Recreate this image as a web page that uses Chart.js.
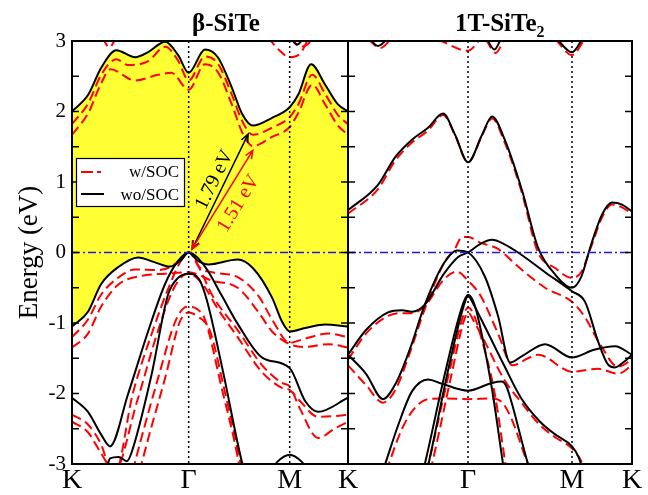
<!DOCTYPE html>
<html>
<head>
<meta charset="utf-8">
<script src="https://cdn.jsdelivr.net/npm/chart.js@4.4.1/dist/chart.umd.min.js"></script>
<style>
  body { margin: 0; background: #fff; }
  #wrap { position: relative; width: 648px; height: 495px; }
  #left { position: absolute; left: 0; top: 0; }
  #right { position: absolute; left: 300px; top: 0; }
</style>
</head>
<body>
<div id="wrap">
  <canvas id="left" width="360" height="495"></canvas>
  <canvas id="right" width="348" height="495"></canvas>
</div>
<script>
// k-path in units of |ΓK|: K - Γ - M - K
const kPath = [0, 1, 1.866, 2.366];
const kNames = ['K', 'Γ', 'M', 'K'];
const eMin = -3, eMax = 3;

// ---- β-SiTe, wo/SOC ----
const siTeCB1 = [[0,2.0],[0.14,2.24],[0.25,2.62],[0.38,2.87],[0.54,2.77],[0.65,2.84],[0.8,2.99],[0.91,2.8],[1.0,2.55],[1.14,2.88],[1.25,2.77],[1.37,2.34],[1.46,1.96],[1.55,1.80],[1.715,1.91],[1.866,2.06],[1.94,2.24],[2.05,2.67],[2.17,2.38],[2.28,2.10],[2.366,2.0]];
const siTeCB2 = [[1.87,3.05],[1.93,2.95],[1.99,3.05]];
const siTeVB1 = [[0,-1.05],[0.137,-0.84],[0.249,-0.45],[0.394,-0.21],[0.566,-0.07],[0.712,-0.14],[0.84,-0.2],[0.93,-0.12],[1.0,0],[1.08,-0.12],[1.17,-0.17],[1.42,-0.1],[1.55,-0.22],[1.715,-0.64],[1.8,-0.98],[1.866,-1.12],[2.0,-1.07],[2.17,-1.02],[2.366,-1.05]];
const siTeVB2 = [[0,-2.06],[0.137,-2.26],[0.249,-2.58],[0.326,-2.75],[0.48,-2.01],[0.652,-1.12],[0.797,-0.45],[0.909,-0.12],[1.0,0],[1.14,-0.2],[1.28,-0.6],[1.423,-1.02],[1.63,-1.49],[1.866,-1.64],[2.0,-2.11],[2.11,-2.26],[2.366,-2.06]];
const siTeVB3 = [[0.3,-3.05],[0.326,-2.92],[0.4,-2.9],[0.47,-2.96],[0.51,-2.84],[0.677,-1.77],[0.823,-0.6],[0.909,-0.36],[1.0,-0.3],[1.09,-0.38],[1.155,-0.67],[1.296,-1.7],[1.455,-2.96],[1.5,-3.2]];
const siTeVB4 = [[1.7,-3.1],[1.76,-2.97],[1.866,-2.87],[1.97,-2.97],[2.03,-3.1]];

// ---- β-SiTe, w/SOC ----
const siTeSocCB1 = [[0,1.82],[0.14,2.12],[0.25,2.52],[0.38,2.74],[0.48,2.66],[0.65,2.71],[0.8,2.92],[0.91,2.72],[1.0,2.44],[1.14,2.78],[1.25,2.68],[1.37,2.24],[1.46,1.86],[1.55,1.67],[1.715,1.77],[1.866,1.92],[1.94,2.1],[2.06,2.52],[2.17,2.25],[2.28,1.95],[2.366,1.82]];
const siTeSocCB2 = [[0,1.67],[0.14,1.98],[0.25,2.4],[0.33,2.6],[0.54,2.44],[0.74,2.52],[0.85,2.55],[1.0,2.31],[1.14,2.67],[1.25,2.56],[1.37,2.1],[1.46,1.7],[1.55,1.51],[1.715,1.64],[1.866,1.78],[1.94,1.98],[2.06,2.38],[2.17,2.1],[2.28,1.8],[2.366,1.67]];
const siTeSocTop1 = [[0.26,3.05],[0.32,2.91],[0.38,3.05]];
const siTeSocTop2 = [[1.68,3.05],[1.77,2.88],[1.866,2.77],[1.96,2.83],[2.03,3.05]];
const siTeSocTop3 = [[1.88,3.05],[1.95,2.92],[2.02,2.95],[2.06,3.05]];
const siTeSocVB1 = [[0,-1.2],[0.137,-0.95],[0.249,-0.6],[0.394,-0.36],[0.54,-0.24],[0.75,-0.25],[0.92,-0.12],[1.0,0],[1.1,-0.22],[1.2,-0.28],[1.42,-0.35],[1.6,-0.62],[1.715,-0.95],[1.866,-1.28],[2.0,-1.22],[2.2,-1.15],[2.366,-1.2]];
const siTeSocVB2 = [[0,-1.35],[0.137,-1.15],[0.249,-0.77],[0.4,-0.45],[0.6,-0.33],[0.8,-0.3],[1.0,-0.28],[1.2,-0.4],[1.42,-0.5],[1.6,-0.85],[1.715,-1.12],[1.866,-1.3],[2.0,-1.34],[2.2,-1.3],[2.366,-1.35]];
const siTeSocVB3 = [[0,-2.4],[0.137,-2.55],[0.25,-2.85],[0.37,-3.12],[0.52,-2.01],[0.69,-1.12],[0.84,-0.45],[0.94,-0.1],[1.0,0],[1.1,-0.25],[1.2,-0.6],[1.42,-1.1],[1.63,-1.6],[1.8,-1.85],[1.866,-1.9],[1.95,-2.2],[2.11,-2.63],[2.25,-2.5],[2.366,-2.4]];
const siTeSocVB4 = [[0,-2.3],[0.137,-2.44],[0.249,-2.72],[0.35,-3.15],[0.56,-2.1],[0.72,-1.2],[0.86,-0.55],[0.95,-0.33],[1.0,-0.3],[1.12,-0.45],[1.25,-0.8],[1.42,-1.2],[1.63,-1.7],[1.8,-1.92],[1.866,-1.95],[1.95,-2.1],[2.11,-2.33],[2.25,-2.32],[2.366,-2.3]];
const siTeSocVB5 = [[0.52,-3.1],[0.6,-2.6],[0.74,-1.77],[0.88,-1.0],[0.95,-0.8],[1.0,-0.77],[1.07,-0.8],[1.14,-0.95],[1.28,-1.9],[1.42,-2.9],[1.45,-3.2]];
const siTeSocVB6 = [[0.58,-3.1],[0.66,-2.6],[0.8,-1.77],[0.92,-1.0],[0.97,-0.87],[1.0,-0.85],[1.07,-0.9],[1.18,-1.1],[1.3,-1.9],[1.44,-2.95],[1.47,-3.2]];

// ---- 1T-SiTe2, wo/SOC ----
const siTe2CB1 = [[0,0.6],[0.25,0.96],[0.392,1.35],[0.533,1.6],[0.667,1.77],[0.792,1.97],[0.892,1.67],[1.0,1.28],[1.117,1.67],[1.2,1.93],[1.308,1.59],[1.45,0.88],[1.583,0.07],[1.725,-0.31],[1.866,-0.5],[1.942,-0.35],[2.025,0.11],[2.117,0.54],[2.2,0.71],[2.283,0.68],[2.366,0.58]];
const siTe2Top1 = [[0.17,3.05],[0.25,2.93],[0.34,3.05]];
const siTe2Top2 = [[1.15,3.05],[1.22,2.88],[1.28,3.05]];
const siTe2Top3 = [[1.73,3.05],[1.866,2.84],[1.96,3.05]];
const siTe2VB1 = [[0,-1.45],[0.15,-1.1],[0.333,-0.85],[0.45,-0.82],[0.533,-0.84],[0.64,-0.74],[0.8,-0.3],[0.92,-0.06],[1.0,0],[1.1,0.12],[1.2,0.18],[1.3,0.12],[1.417,0],[1.642,-0.28],[1.866,-0.55],[1.975,-0.7],[2.083,-1.26],[2.167,-1.59],[2.225,-1.63],[2.3,-1.55],[2.366,-1.45]];
const siTe2VB2 = [[0,-1.45],[0.15,-1.72],[0.292,-2.08],[0.4,-1.85],[0.52,-1.35],[0.64,-0.74],[0.8,-0.15],[0.908,0.03],[1.0,0],[1.14,-0.34],[1.25,-0.9],[1.35,-1.56],[1.45,-1.47],[1.642,-1.3],[1.866,-1.49],[2.05,-1.38],[2.225,-1.33],[2.366,-1.45]];
const siTe2VB3 = [[0.625,-3.1],[0.64,-3.0],[0.81,-1.7],[0.95,-0.77],[1.0,-0.6],[1.04,-0.68],[1.08,-0.9],[1.2,-1.94],[1.29,-2.98],[1.31,-3.2]];
const siTe2VB4 = [[0.655,-3.1],[0.67,-3.0],[0.83,-1.7],[0.96,-0.78],[1.0,-0.62],[1.05,-0.75],[1.14,-1.05],[1.3,-1.6],[1.44,-2.06],[1.6,-2.4],[1.725,-2.58],[1.866,-2.75],[1.92,-2.9],[1.96,-3.1]];
const siTe2VB5 = [[0.29,-3.1],[0.31,-3.0],[0.42,-2.44],[0.533,-1.97],[0.667,-1.8],[0.78,-1.86],[1.0,-1.96],[1.2,-1.85],[1.28,-1.83],[1.32,-1.9],[1.36,-2.11],[1.5,-3.0],[1.52,-3.1]];

// ---- 1T-SiTe2, w/SOC ----
const siTe2SocCB1 = [[0,0.55],[0.25,0.9],[0.392,1.3],[0.533,1.56],[0.667,1.73],[0.792,1.95],[0.892,1.66],[1.0,1.28],[1.117,1.66],[1.2,1.9],[1.308,1.55],[1.45,0.84],[1.583,0.0],[1.725,-0.22],[1.866,-0.36],[1.942,-0.28],[2.025,0.08],[2.117,0.5],[2.2,0.68],[2.283,0.64],[2.366,0.55]];
const siTe2SocTop1 = [[0.17,3.02],[0.27,2.9],[0.37,3.05]];
const siTe2SocTop2 = [[0.75,3.02],[1.0,2.86],[1.1,3.02]];
const siTe2SocTop3 = [[1.15,3.02],[1.23,2.83],[1.3,3.02]];
const siTe2SocTop4 = [[1.73,3.02],[1.866,2.8],[1.97,3.02]];
const siTe2SocVB1 = [[0,-1.52],[0.15,-1.15],[0.333,-0.9],[0.45,-0.86],[0.533,-0.86],[0.64,-0.76],[0.8,-0.38],[0.908,-0.27],[1.0,-0.4],[1.1,-0.6],[1.25,-1.15],[1.37,-1.6],[1.5,-1.5],[1.583,-1.45],[1.866,-1.69],[2.083,-1.65],[2.25,-1.72],[2.366,-1.6]];
const siTe2SocVB2 = [[0,-1.6],[0.15,-1.88],[0.292,-2.13],[0.4,-1.93],[0.52,-1.4],[0.64,-0.8],[0.8,-0.15],[0.89,0.05],[0.95,0.22],[1.0,0.22],[1.1,0.14],[1.25,0.05],[1.417,-0.2],[1.642,-0.5],[1.866,-0.7],[1.975,-0.92],[2.1,-1.3],[2.25,-1.62],[2.366,-1.52]];
const siTe2SocVB3 = [[0.655,-3.1],[0.67,-3.0],[0.84,-1.72],[0.96,-0.9],[1.0,-0.78],[1.04,-0.85],[1.1,-1.15],[1.22,-1.98],[1.31,-2.98],[1.33,-3.2]];
const siTe2SocVB4 = [[0.685,-3.1],[0.7,-3.0],[0.86,-1.75],[0.96,-1.0],[1.0,-0.85],[1.05,-0.98],[1.15,-1.3],[1.3,-1.8],[1.45,-2.14],[1.6,-2.45],[1.725,-2.62],[1.866,-2.78],[1.93,-2.92],[1.98,-3.1]];
const siTe2SocVB5 = [[0.32,-3.1],[0.34,-3.0],[0.45,-2.5],[0.56,-2.2],[0.667,-2.08],[0.8,-2.07],[1.0,-2.08],[1.2,-2.07],[1.28,-2.12],[1.36,-2.35],[1.5,-3.0],[1.53,-3.1]];

// gap arrows (start / end in k, E)
const gapNoSoc = { from: [1.03, 0.05], to: [1.51, 1.68], text: '1.79 eV' };
const gapSoc = { from: [1.03, 0.05], to: [1.55, 1.45], text: '1.51 eV' };

const serif = "'Liberation Serif', 'Times New Roman', serif";
const RED = 'rgb(255,0,0)';
const YELLOW = '#ffff33';

function band(points, soc, extra) {
  return Object.assign({
    data: points.map(p => ({ x: p[0], y: p[1] })),
    borderColor: soc ? RED : '#000',
    borderWidth: 2,
    borderDash: soc ? [10, 5] : [],
    pointRadius: 0,
    cubicInterpolationMode: 'monotone',
    fill: false
  }, extra || {});
}

function drawArrow(ctx, x1, y1, x2, y2, color) {
  const ang = Math.atan2(y2 - y1, x2 - x1);
  const h = 9, w = 0.4;
  ctx.strokeStyle = color;
  ctx.lineWidth = 1.5;
  ctx.beginPath();
  ctx.moveTo(x1, y1); ctx.lineTo(x2, y2);
  [[x2, y2, ang], [x1, y1, ang + Math.PI]].forEach(([px, py, a]) => {
    ctx.moveTo(px - h * Math.cos(a - w), py - h * Math.sin(a - w));
    ctx.lineTo(px, py);
    ctx.lineTo(px - h * Math.cos(a + w), py - h * Math.sin(a + w));
  });
  ctx.stroke();
}

function drawGapText(ctx, x, y, gap, color, side) {
  const x1 = x.getPixelForValue(gap.from[0]), y1 = y.getPixelForValue(gap.from[1]);
  const x2 = x.getPixelForValue(gap.to[0]), y2 = y.getPixelForValue(gap.to[1]);
  drawArrow(ctx, x1, y1, x2, y2, color);
  const ang = Math.atan2(y2 - y1, x2 - x1);
  ctx.save();
  ctx.translate((x1 + x2) / 2, (y1 + y2) / 2);
  ctx.rotate(ang);
  ctx.fillStyle = color;
  ctx.font = '20px ' + serif;
  ctx.textAlign = 'center';
  ctx.textBaseline = 'alphabetic';
  ctx.fillText(gap.text, side < 0 ? 8 : 5, side < 0 ? -5 : 21);
  ctx.restore();
}

const decor = {
  id: 'decor',
  afterDatasetsDraw(chart, args, opts) {
    const { ctx, chartArea: a, scales: { x, y } } = chart;
    const seg = (x1, y1, x2, y2) => { ctx.beginPath(); ctx.moveTo(x1, y1); ctx.lineTo(x2, y2); ctx.stroke(); };
    ctx.save();
    // Fermi level
    ctx.strokeStyle = 'rgb(30,30,230)';
    ctx.lineWidth = 1.5;
    ctx.setLineDash([8, 3, 2, 3]);
    const y0 = y.getPixelForValue(0);
    seg(a.left, y0, a.right, y0);
    // high-symmetry points
    ctx.strokeStyle = '#000';
    ctx.setLineDash([2, 3]);
    [kPath[1], kPath[2]].forEach(k => {
      const px = x.getPixelForValue(k);
      seg(px, a.top, px, a.bottom);
    });
    ctx.setLineDash([]);
    // inward ticks
    ctx.lineWidth = 1.5;
    for (let e = eMin + 0.5; e < eMax; e += 0.5) {
      const py = y.getPixelForValue(e);
      seg(a.left, py, a.left + 7, py);
      seg(a.right - 7, py, a.right, py);
    }
    ctx.lineWidth = 2;
    ctx.strokeRect(a.left, a.top, a.right - a.left, a.bottom - a.top);

    if (opts.arrows) {
      drawGapText(ctx, x, y, gapNoSoc, '#000', -1);
      drawGapText(ctx, x, y, gapSoc, RED, 1);
    }
    if (opts.legend) {
      ctx.fillStyle = '#fff';
      ctx.fillRect(76, 158, 109, 49);
      ctx.strokeStyle = '#000';
      ctx.lineWidth = 1.2;
      ctx.strokeRect(76.5, 158.5, 108, 48);
      ctx.lineWidth = 2;
      ctx.strokeStyle = RED;
      seg(81, 172, 93, 172);
      seg(97, 172, 101, 172);
      ctx.strokeStyle = '#000';
      seg(81, 194, 104, 194);
      ctx.fillStyle = '#000';
      ctx.font = '17px ' + serif;
      ctx.textAlign = 'right';
      ctx.textBaseline = 'alphabetic';
      ctx.fillText('w/SOC', 179, 177);
      ctx.fillText('wo/SOC', 179, 200);
    }
    ctx.restore();
  },
  afterDraw(chart, args, opts) {
    const ctx = chart.ctx;
    ctx.save();
    ctx.fillStyle = '#000';
    ctx.textBaseline = 'alphabetic';
    ctx.font = 'bold 25px ' + serif;
    if (opts.sub) {
      ctx.textAlign = 'left';
      ctx.fillText(opts.title, opts.titleX, 31);
      const w = ctx.measureText(opts.title).width;
      ctx.font = 'bold 16px ' + serif;
      ctx.fillText(opts.sub, opts.titleX + w, 37);
    } else {
      ctx.textAlign = 'center';
      ctx.fillText(opts.title, opts.titleX, 31);
    }
    ctx.restore();
  }
};

function makeChart(id, datasets, cfg) {
  return new Chart(document.getElementById(id), {
    type: 'line',
    data: { datasets },
    options: {
      responsive: false,
      animation: false,
      events: [],
      layout: { padding: { top: 41, right: cfg.padRight, left: cfg.padLeft, bottom: 0 } },
      scales: {
        x: {
          type: 'linear', min: kPath[0], max: kPath[kPath.length - 1],
          afterBuildTicks: s => { s.ticks = kPath.map(v => ({ value: v })); },
          afterFit: s => { s.height = 31; },
          grid: { display: false, drawTicks: false },
          border: { display: false },
          ticks: {
            autoSkip: false, maxRotation: 0, padding: 0, color: '#000',
            font: { family: serif, size: 28 },
            callback: (v, i) => (cfg.hideLast && i === kPath.length - 1) ? '' : kNames[i]
          }
        },
        y: {
          display: cfg.showY,
          min: eMin, max: eMax,
          afterFit: s => { s.width = cfg.showY ? 72 : 0; },
          grid: { display: false, drawTicks: false },
          border: { display: false },
          ticks: { stepSize: 1, padding: 6, color: '#000', font: { family: serif, size: 21 } },
          title: { display: cfg.showY, text: 'Energy (eV)', color: '#000', font: { family: serif, size: 27 }, padding: { top: 14, bottom: 0 } }
        }
      },
      plugins: {
        legend: { display: false },
        tooltip: { enabled: false },
        filler: { drawTime: 'beforeDatasetsDraw' },
        decor: cfg.decor
      }
    },
    plugins: [decor]
  });
}

// black first so it is drawn on top of the red curves
const leftSets = [
  band(siTeCB1, false, { fill: { target: 2 }, backgroundColor: YELLOW }),
  band(siTeCB2, false),
  band(siTeVB1, false),
  band(siTeVB2, false),
  band(siTeVB3, false),
  band(siTeVB4, false),
  band(siTeSocCB1, true), band(siTeSocCB2, true),
  band(siTeSocTop1, true), band(siTeSocTop2, true), band(siTeSocTop3, true),
  band(siTeSocVB1, true), band(siTeSocVB2, true), band(siTeSocVB3, true),
  band(siTeSocVB4, true), band(siTeSocVB5, true), band(siTeSocVB6, true)
];

const rightSets = [
  band(siTe2CB1, false), band(siTe2Top1, false), band(siTe2Top2, false), band(siTe2Top3, false),
  band(siTe2VB1, false), band(siTe2VB2, false), band(siTe2VB3, false), band(siTe2VB4, false), band(siTe2VB5, false),
  band(siTe2SocCB1, true), band(siTe2SocTop1, true), band(siTe2SocTop2, true), band(siTe2SocTop3, true), band(siTe2SocTop4, true),
  band(siTe2SocVB1, true), band(siTe2SocVB2, true), band(siTe2SocVB3, true), band(siTe2SocVB4, true), band(siTe2SocVB5, true)
];

makeChart('left', leftSets, {
  padLeft: 0, padRight: 12, showY: true, hideLast: true,
  decor: { title: 'β-SiTe', titleX: 226, arrows: true, legend: true }
});
makeChart('right', rightSets, {
  padLeft: 48, padRight: 16, showY: false, hideLast: false,
  decor: { title: '1T-SiTe', sub: '2', titleX: 155 }
});
</script>
</body>
</html>
